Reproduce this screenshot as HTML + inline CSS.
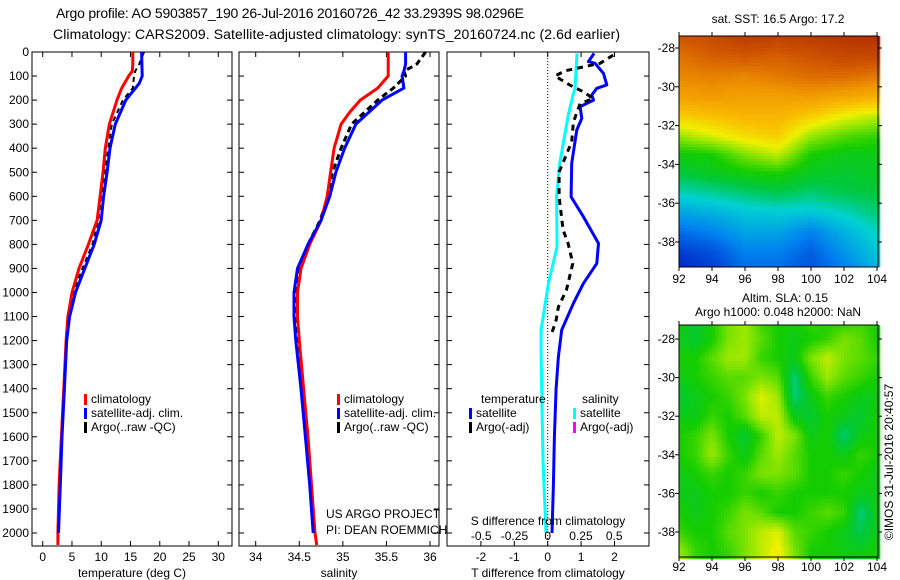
<!DOCTYPE html>
<html><head><meta charset="utf-8"><style>
body{margin:0;background:#fff;}
svg{display:block;font-family:"Liberation Sans",sans-serif;}
text{fill:#000;}
</style></head><body>
<svg id="c" width="900" height="580" viewBox="0 0 900 580" xmlns="http://www.w3.org/2000/svg"></svg>
<script>
// ---- data ----
const depthTicks=[0,100,200,300,400,500,600,700,800,900,1000,1100,1200,1300,1400,1500,1600,1700,1800,1900,2000];
const tempTicks=[0,5,10,15,20,25,30];
const salTicks=[34,34.5,35,35.5,36];
const tdiffTicks=[-2,-1,0,1,2];
const sdiffTicks=[-0.5,-0.25,0,0.25,0.5];
const sdiffLabels=["-0.5","-0.25","0","0.25","0.5"];
const lonTicks=[92,94,96,98,100,102,104];
const latTicks=[-28,-30,-32,-34,-36,-38];

const tClimD=[0,50,80,100,150,200,300,400,500,600,700,800,900,1000,1100,1200,1400,1600,1800,2000,2050];
const tClimV=[15.4,15.4,15.3,14.7,13.5,12.7,11.4,10.7,10.3,9.8,9.3,7.8,6.2,5.0,4.3,4.0,3.6,3.2,2.8,2.6,2.6];
const tSatD=[0,100,130,200,300,400,500,600,700,800,900,1000,1100,1200,1400,1600,1800,2000];
const tSatV=[16.9,17.0,16.5,14.2,12.4,11.5,11.0,10.4,10.0,8.8,7.2,5.6,4.6,4.1,3.7,3.3,3.0,2.7];
const tArgoD=[0,50,80,100,150,200,300,400,500,600,700,800,900,1000,1100,1200,1400,1600,1800,2000];
const tArgoV=[17.3,16.5,15.8,15.6,15.4,13.7,11.8,11.2,10.6,10.0,9.5,8.5,6.8,5.2,4.4,4.0,3.6,3.2,2.9,2.7];

const sClimD=[0,100,150,200,250,300,400,500,600,700,800,900,1000,1100,1200,1400,1600,1800,2000,2050];
const sClimV=[35.52,35.52,35.4,35.2,35.08,34.98,34.9,34.86,34.82,34.75,34.62,34.52,34.48,34.48,34.5,34.55,34.6,34.64,34.68,34.7];
const sSatD=[0,50,80,100,150,200,300,400,500,600,700,800,900,1000,1100,1200,1400,1600,1800,2000];
const sSatV=[35.72,35.72,35.7,35.68,35.7,35.45,35.15,35.02,34.92,34.85,34.75,34.6,34.48,34.44,34.44,34.46,34.52,34.57,34.62,34.66];
const sArgoD=[0,50,80,100,150,200,300,400,500,600,700,800,900,1000,1100,1200,1400];
const sArgoV=[35.95,35.85,35.7,35.72,35.58,35.4,35.1,34.98,34.88,34.83,34.74,34.6,34.5,34.46,34.46,34.48,34.53];

const dTsatD=[6,40,47,89,137,151,179,200,227,276,324,463,602,685,796,879,962,1045,1156,1267,1400,1600,1800,2000];
const dTsatV=[1.39,1.22,1.42,1.67,1.77,1.47,1.32,1.37,0.97,1.02,0.87,0.72,0.70,1.07,1.52,1.47,1.07,0.77,0.42,0.32,0.25,0.2,0.17,0.13];
const dSsatD=[6,151,179,227,262,463,602,810,962,1156,1267,1400,1700,2000];
const dSsatV=[0.22,0.205,0.19,0.17,0.155,0.09,0.067,0.07,0.005,-0.05,-0.05,-0.045,-0.035,-0.013];
const dTargoD=[13,47,78,100,138,165,193,215,291,374,499,602,740,796,879,990,1060,1115,1170];
const dTargoV=[1.96,1.57,0.52,0.22,0.67,1.06,1.36,0.97,0.77,0.72,0.34,0.34,0.46,0.61,0.75,0.56,0.32,0.25,0.12];

// SST map coarse grid (colour index 0..1), rows lat, cols lon
const sstLats=[-27.4,-28.5,-29.5,-30.5,-31.5,-32.5,-33.5,-34.5,-35.5,-36.5,-37.5,-38.5,-39.3];
const sstLons=[92,94,96,98,100,102,104];
const sstGrid=[
[.88,.9,.93,.92,.93,.94,.95],
[.83,.86,.87,.86,.88,.9,.9],
[.8,.81,.8,.82,.84,.84,.82],
[.76,.77,.76,.76,.77,.75,.73],
[.68,.7,.72,.72,.68,.63,.6],
[.58,.62,.66,.68,.58,.54,.52],
[.49,.5,.56,.6,.5,.48,.48],
[.45,.47,.49,.5,.47,.46,.47],
[.38,.4,.42,.44,.42,.44,.45],
[.3,.32,.35,.36,.35,.38,.42],
[.22,.25,.3,.3,.25,.32,.38],
[.15,.18,.25,.25,.2,.28,.35],
[.12,.15,.22,.22,.18,.25,.33]];
const slaLats=[-27,-28,-29,-30,-31,-32,-33,-34,-35,-36,-37,-38,-39];
const slaLons=[92,93,94,95,96,97,98,99,100,101,102,103,104];
const slaGrid=[
[.50,.46,.50,.56,.58,.52,.50,.50,.52,.50,.50,.52,.50],
[.48,.46,.50,.56,.58,.54,.50,.48,.50,.52,.56,.54,.50],
[.50,.50,.54,.58,.58,.52,.50,.48,.56,.60,.56,.54,.52],
[.48,.50,.52,.54,.54,.56,.54,.42,.52,.58,.54,.52,.50],
[.46,.48,.50,.52,.56,.62,.58,.42,.48,.52,.50,.48,.48],
[.48,.48,.52,.50,.54,.60,.60,.48,.46,.50,.48,.46,.50],
[.50,.52,.56,.50,.46,.52,.60,.56,.48,.50,.42,.48,.50],
[.50,.52,.58,.52,.48,.54,.58,.54,.50,.50,.48,.52,.50],
[.48,.50,.52,.50,.52,.56,.56,.54,.50,.50,.52,.50,.48],
[.48,.48,.50,.50,.52,.50,.52,.50,.50,.50,.50,.48,.48],
[.50,.48,.50,.52,.56,.54,.50,.50,.52,.54,.52,.42,.48],
[.52,.50,.50,.54,.56,.60,.62,.54,.52,.50,.48,.44,.48],
[.58,.52,.50,.52,.56,.60,.64,.56,.50,.50,.48,.48,.50]];

// ---- helpers ----
const S=document.getElementById('c');const NS='http://www.w3.org/2000/svg';
function el(t,a,p){const e=document.createElementNS(NS,t);for(const k in a)e.setAttribute(k,a[k]);(p||S).appendChild(e);return e;}
function txt(x,y,s,anchor,size,p){const e=el('text',{x:x,y:y,'text-anchor':anchor||'middle','font-size':size||12},p);e.textContent=s;return e;}
const TOP=52,BOT=546;
const yD=d=>TOP+d*0.2405;
function lin(d0,d1,r0,r1){return v=>r0+(v-d0)*(r1-r0)/(d1-d0);}
const xT=lin(0,30,42.7,218.3), xS=lin(34,36,255.7,430), xTd=lin(0,1,547.7,581.1), xSd=lin(0,1,547.7,680.7);

function frame(x0,x1,name,xt,xs){
  const g=el('g',{});
  el('rect',{x:x0,y:TOP,width:x1-x0,height:BOT-TOP,fill:'none',stroke:'#000','stroke-width':1},g);
  depthTicks.forEach(d=>{el('line',{x1:x0,x2:x0+5,y1:yD(d),y2:yD(d),stroke:'#000'},g);el('line',{x1:x1,x2:x1-5,y1:yD(d),y2:yD(d),stroke:'#000'},g);});
  xt.forEach(v=>{el('line',{x1:xs(v),x2:xs(v),y1:TOP,y2:TOP+5,stroke:'#000'},g);el('line',{x1:xs(v),x2:xs(v),y1:BOT,y2:BOT-5,stroke:'#000'},g);});
  return g;
}
function line(D,V,xs,color,w,name,dash){
  const pts=D.map((d,i)=>xs(V[i]).toFixed(1)+','+yD(d).toFixed(1)).join(' ');
  const a={points:pts,fill:'none',stroke:color,'stroke-width':w,'stroke-linejoin':'round'};
  if(dash)a['stroke-dasharray']=dash;
  const e=el('polyline',a);
  
  
}
function legend(x,y,items,name){
  const g=el('g',{});
  items.forEach((it,i)=>{el('rect',{x:x,y:y+i*14-9,width:3,height:11,fill:it[1]},g);txt(x+7,y+i*14,it[0],'start',12,g);});
}

// titles
const t1=txt(56,18,'Argo profile: AO 5903857_190 26-Jul-2016 20160726_42 33.2939S 98.0296E','start',14);
t1.setAttribute('textLength','468');

const t2=txt(53,39,'Climatology: CARS2009. Satellite-adjusted climatology: synTS_20160724.nc (2.6d earlier)','start',14);
t2.setAttribute('textLength','567');


// panel 1
frame(32,232,'temperature-panel',tempTicks,xT);
depthTicks.forEach(d=>{const e=txt(29,yD(d)+4,String(d),'end',12);});
tempTicks.forEach(v=>txt(xT(v),561,String(v)));
const tl=txt(132,577,'temperature (deg C)');
line(tArgoD,tArgoV,xT,'#000',2,'temp-argo-line','5,4');
line(tClimD,tClimV,xT,'#f00',3,'temp-climatology-line');
line(tSatD,tSatV,xT,'#00f',3,'temp-satellite-line');
legend(84,403,[['climatology','#f00'],['satellite-adj. clim.','#00f'],['Argo(..raw -QC)','#000']],'temp-legend');

// panel 2
frame(239,439,'salinity-panel',salTicks,xS);
salTicks.forEach(v=>txt(xS(v),561,String(v)));
const sl=txt(339,577,'salinity');
line(sArgoD,sArgoV,xS,'#000',3,'sal-argo-line','6,4');
line(sClimD,sClimV,xS,'#f00',3,'sal-climatology-line');
line(sSatD,sSatV,xS,'#00f',3,'sal-satellite-line');
legend(337,403,[['climatology','#f00'],['satellite-adj. clim.','#00f'],['Argo(..raw -QC)','#000']],'sal-legend');
txt(326,518,'US ARGO PROJECT','start',12);
txt(326,534,'PI: DEAN ROEMMICH','start',12);

// panel 3
frame(447,649,'difference-panel',tdiffTicks,xTd);
el('line',{x1:xTd(0),x2:xTd(0),y1:TOP,y2:BOT,stroke:'#000','stroke-dasharray':'1,2'});
line(dSsatD,dSsatV,xSd,'#0ff',3,'sal-diff-satellite-line');
line(dTsatD,dTsatV,xTd,'#00f',3,'temp-diff-satellite-line');
line(dTargoD,dTargoV,xTd,'#000',3,'temp-diff-argo-line','6,5');
tdiffTicks.forEach(v=>txt(xTd(v),561,String(v)));
sdiffTicks.forEach((v,i)=>txt(xSd(v),540,sdiffLabels[i]));
txt(548,525,'S difference from climatology');
const dl=txt(548,577,'T difference from climatology');
txt(481,403,'temperature','start',12);txt(582,403,'salinity','start',12);
legend(469,417,[['satellite','#00f'],['Argo(-adj)','#000']],'temp-diff-legend');
legend(573,417,[['satellite','#0ff'],['Argo(-adj)','#f0f']],'sal-diff-legend');

// colormap
const cst=[[0,0,0,140],[.12,0,40,200],[.25,0,130,240],[.37,0,210,210],[.45,0,200,60],[.5,20,205,0],[.57,140,230,0],[.63,240,240,0],[.7,250,190,0],[.78,240,150,0],[.87,210,90,0],[1,160,20,0]];
function cmap(v){v=Math.max(0,Math.min(1,v));for(let i=1;i<cst.length;i++){if(v<=cst[i][0]){const a=cst[i-1],b=cst[i],f=(v-a[0])/(b[0]-a[0]);return 'rgb('+[1,2,3].map(k=>Math.round(a[k]+f*(b[k]-a[k]))).join(',')+')';}}return 'rgb(160,20,0)';}
function interp(arr,v){
  if(arr[0]>arr[arr.length-1]){for(let i=0;i<arr.length-1;i++){if(v<=arr[i]&&v>=arr[i+1])return i+(arr[i]-v)/(arr[i]-arr[i+1]);}return v>arr[0]?0:arr.length-1;}
  for(let i=0;i<arr.length-1;i++){if(v>=arr[i]&&v<=arr[i+1])return i+(v-arr[i])/(arr[i+1]-arr[i]);}return v<arr[0]?0:arr.length-1;}
function bil(grid,fi,fj){const i0=Math.min(Math.floor(fi),grid.length-2),j0=Math.min(Math.floor(fj),grid[0].length-2);const a=fi-i0,b=fj-j0;
  return grid[i0][j0]*(1-a)*(1-b)+grid[i0][j0+1]*(1-a)*b+grid[i0+1][j0]*a*(1-b)+grid[i0+1][j0+1]*a*b;}
function map(x0,x1,y0,y1,lat0,lat1,grid,lats,lons,name,lonLabelY){
  const g=el('g',{});
  const xL=lin(92,104,679,877), yL=lin(-28,-38,lat0,lat1);
  const step=3;
  for(let y=y0;y<y1;y+=step)for(let x=x0;x<x1;x+=step){
    const lon=92+(x+step/2-679)*12/198, lat=-28+(y+step/2-lat0)*(-10)/(lat1-lat0);
    const v=bil(grid,interp(lats,lat),interp(lons,lon));
    el('rect',{x:x,y:y,width:step+0.3,height:step+0.3,fill:cmap(v)},g);
  }
  el('rect',{x:x0,y:y0,width:x1-x0,height:y1-y0,fill:'none',stroke:'#000'},g);
  lonTicks.forEach(v=>{el('line',{x1:xL(v),x2:xL(v),y1:y0,y2:y0-4,stroke:'#000'},g);el('line',{x1:xL(v),x2:xL(v),y1:y1,y2:y1+4,stroke:'#000'},g);txt(xL(v),lonLabelY,String(v),'middle',12,g);});
  latTicks.forEach(v=>{el('line',{x1:x0,x2:x0-4,y1:yL(v),y2:yL(v),stroke:'#000'},g);el('line',{x1:x1,x2:x1+4,y1:yL(v),y2:yL(v),stroke:'#000'},g);txt(x0-4,yL(v)+4,String(v),'end',12,g);});
}
map(679,878,36,267,48,242,sstGrid,sstLats,sstLons,'sst-map',283);
map(679,878,325,557,339,532,slaGrid,slaLats,slaLons,'sla-map',571);
txt(778,23,'sat. SST: 16.5 Argo: 17.2','middle',12);
txt(785,302,'Altim. SLA: 0.15','middle',12);
txt(778,316,'Argo h1000: 0.048 h2000: NaN','middle',12);
const r=txt(0,0,'©IMOS 31-Jul-2016 20:40:57','middle',12);r.setAttribute('transform','translate(893,462) rotate(-90)');
</script>
</body></html>
